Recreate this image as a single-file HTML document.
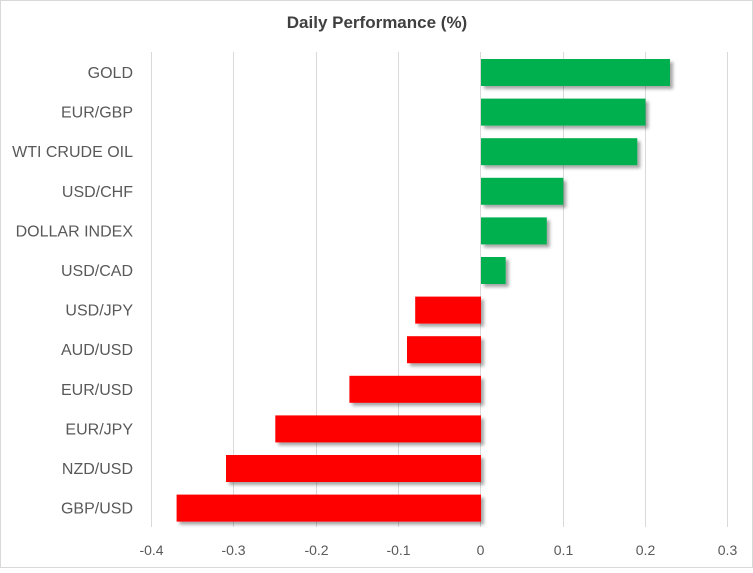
<!DOCTYPE html><html><head><style>body{margin:0;background:#fff}</style></head><body>
<svg width="753" height="568" xmlns="http://www.w3.org/2000/svg" font-family="Liberation Sans, sans-serif">
<defs><filter id="s" x="-5%" y="-20%" width="115%" height="160%"><feDropShadow dx="3" dy="3" stdDeviation="1.5" flood-color="#000" flood-opacity="0.35"/></filter></defs>
<rect x="0.5" y="0.5" width="752" height="567" fill="#fff" stroke="#d9d9d9"/>
<text x="377" y="28" text-anchor="middle" font-size="17" font-weight="bold" fill="#404040">Daily Performance  (%)</text>
<g stroke="#d9d9d9" stroke-width="1">
<line x1="151.5" y1="52" x2="151.5" y2="527"/><line x1="233.5" y1="52" x2="233.5" y2="527"/><line x1="316.5" y1="52" x2="316.5" y2="527"/><line x1="398.5" y1="52" x2="398.5" y2="527"/><line x1="480.5" y1="52" x2="480.5" y2="527"/><line x1="563.5" y1="52" x2="563.5" y2="527"/><line x1="645.5" y1="52" x2="645.5" y2="527"/><line x1="727.5" y1="52" x2="727.5" y2="527"/>
</g>
<g filter="url(#s)">
<rect x="481" y="59" width="189" height="27" fill="#00b050"/>
<rect x="481" y="98.6" width="164.5" height="27" fill="#00b050"/>
<rect x="481" y="138.2" width="156.3" height="27" fill="#00b050"/>
<rect x="481" y="177.8" width="82.3" height="27" fill="#00b050"/>
<rect x="481" y="217.4" width="65.8" height="27" fill="#00b050"/>
<rect x="481" y="257" width="24.7" height="27" fill="#00b050"/>
<rect x="415.2" y="296.6" width="65.8" height="27" fill="#ff0000"/>
<rect x="407" y="336.2" width="74" height="27" fill="#ff0000"/>
<rect x="349.4" y="375.8" width="131.6" height="27" fill="#ff0000"/>
<rect x="275.3" y="415.4" width="205.7" height="27" fill="#ff0000"/>
<rect x="226" y="455" width="255" height="27" fill="#ff0000"/>
<rect x="176.6" y="494.6" width="304.4" height="27" fill="#ff0000"/>
</g>
<g font-size="16" fill="#595959" text-anchor="end">
<text x="133" y="78">GOLD</text><text x="133" y="117.6">EUR/GBP</text><text x="133" y="157.2">WTI CRUDE OIL</text><text x="133" y="196.8">USD/CHF</text><text x="133" y="236.4">DOLLAR INDEX</text><text x="133" y="276">USD/CAD</text><text x="133" y="315.6">USD/JPY</text><text x="133" y="355.2">AUD/USD</text><text x="133" y="394.8">EUR/USD</text><text x="133" y="434.4">EUR/JPY</text><text x="133" y="474">NZD/USD</text><text x="133" y="513.6">GBP/USD</text>
</g>
<g font-size="14" fill="#595959" text-anchor="middle">
<text x="151.5" y="555">-0.4</text><text x="233.5" y="555">-0.3</text><text x="316.5" y="555">-0.2</text><text x="398.5" y="555">-0.1</text><text x="480.5" y="555">0</text><text x="563.5" y="555">0.1</text><text x="645.5" y="555">0.2</text><text x="727.5" y="555">0.3</text>
</g>
</svg></body></html>
